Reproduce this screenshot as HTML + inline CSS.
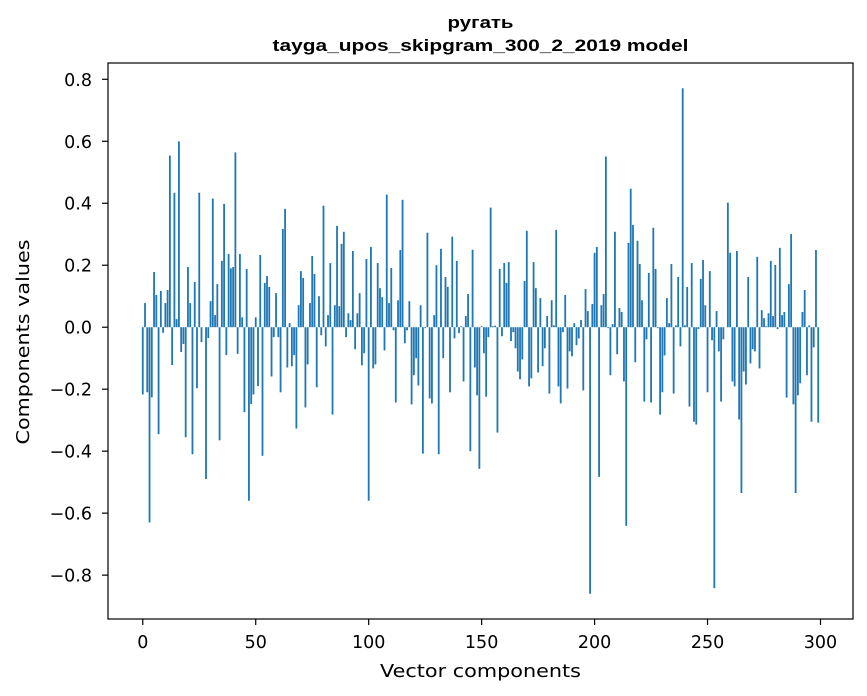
<!DOCTYPE html>
<html><head><meta charset="utf-8">
<style>
html,body{margin:0;padding:0;background:#fff;}
svg{display:block;}
</style></head>
<body>
<svg id="chart" width="867" height="696" viewBox="0 0 867 696" xmlns="http://www.w3.org/2000/svg">
  <rect x="0" y="0" width="867" height="696" fill="#fff"/>
  <text x="480.5" y="28" text-anchor="middle" font-family="Liberation Sans, Arial, sans-serif" font-weight="bold" font-size="17" textLength="66" lengthAdjust="spacingAndGlyphs" fill="#000">ругать</text>
  <text x="480.5" y="51" text-anchor="middle" font-family="Liberation Sans, Arial, sans-serif" font-weight="bold" font-size="17" textLength="416" lengthAdjust="spacingAndGlyphs" fill="#000">tayga_upos_skipgram_300_2_2019 model</text>
  <g id="bars"></g>
  <g id="xticks"></g>
  <g id="yticks"></g>
  <rect x="108" y="63" width="745" height="556" fill="none" stroke="#000" stroke-width="1.2"/>
  <text x="480.5" y="677" text-anchor="middle" font-family="DejaVu Sans, sans-serif" font-size="17.5" textLength="201" lengthAdjust="spacingAndGlyphs" fill="#000">Vector components</text>
  <text transform="translate(29,342) rotate(-90)" text-anchor="middle" font-family="DejaVu Sans, sans-serif" font-size="17.5" textLength="205" lengthAdjust="spacingAndGlyphs" fill="#000">Components values</text>
</svg>
<script>
const componentValues = [
-0.217,0.078,-0.21,-0.63,-0.226,0.178,0.104,-0.345,0.117,-0.018,
0.078,0.12,0.554,-0.122,0.434,0.026,0.6,-0.08,-0.054,-0.355,
0.194,0.078,-0.41,0.146,-0.197,0.434,-0.048,0,-0.49,-0.035,
0.084,0.415,0.039,0.139,-0.365,0.214,0.398,-0.09,0.236,0.19,
0.194,0.564,-0.086,0.236,0.032,-0.274,0.188,-0.56,-0.248,-0.217,
0.032,-0.19,0.233,-0.415,0.143,0.165,0.13,-0.159,-0.032,0.11,
-0.032,-0.21,0.317,0.382,-0.13,0.013,-0.126,-0.09,-0.327,0.071,
0.181,0.159,-0.259,-0.12,0.078,0.23,0.172,-0.194,0.1,-0.026,
0.392,-0.062,0.039,0.207,-0.282,0.071,0.327,0.068,0.269,0.308,
-0.032,0.045,0.023,0.246,-0.071,0.045,0.11,-0.123,-0.084,0.22,
-0.56,0.259,-0.133,-0.12,0.207,0.126,0.097,-0.075,0.428,0.078,
0.191,-0.01,-0.243,0.087,0.249,0.411,-0.052,-0.01,0.084,-0.249,
-0.155,-0.1,-0.188,0.071,-0.408,-0.003,0.305,-0.23,-0.246,0.039,
0.2,-0.41,0.253,-0.1,0.162,0.13,-0.21,0.292,-0.036,0.214,
-0.019,0.003,-0.175,0.036,0.107,-0.4,0.25,-0.13,-0.22,-0.457,
0.003,-0.084,-0.224,-0.032,0.386,0.003,0.005,-0.34,0.188,-0.029,
0.207,0.143,0.21,-0.045,-0.016,-0.068,-0.143,-0.168,-0.104,0.149,
0.311,-0.191,-0.165,0.21,0.126,-0.146,0.094,-0.126,-0.068,0.036,
-0.214,0.087,0.006,0.314,-0.191,-0.246,-0.016,0.104,-0.198,-0.078,
-0.094,0.013,-0.058,-0.036,0.023,-0.204,0.123,0.052,-0.86,0.075,
0.24,0.259,-0.483,0.071,0.107,0.551,-0.003,-0.155,0.01,0.308,
-0.087,0.062,0.049,-0.175,-0.641,0.272,0.447,0.33,-0.113,0.279,
0.204,0.087,-0.24,-0.039,0.175,-0.243,0.321,0.188,-0.003,-0.282,
-0.21,-0.091,0.094,0.013,0.204,-0.214,0.006,0.162,-0.062,0.771,
0.006,0.13,-0.256,0.207,-0.305,-0.314,-0.006,0.156,0.217,0.071,
-0.21,0.181,-0.042,-0.842,0.052,-0.078,-0.24,-0.039,0,0.402,
0.24,-0.175,-0.191,0.246,-0.298,-0.535,-0.143,-0.185,0.162,-0.117,
-0.071,-0.078,0.227,-0.133,0.055,0.029,0.003,0.045,0.214,0.036,
0.201,-0.006,0.256,0.039,0.049,-0.227,0.139,0.301,-0.249,-0.535,
-0.22,-0.181,0.049,0.12,-0.155,0.006,-0.305,-0.065,0.249,-0.308
];
const xTickValues = [0, 50, 100, 150, 200, 250, 300];
const yTickValues = [-0.8, -0.6, -0.4, -0.2, 0.0, 0.2, 0.4, 0.6, 0.8];
const yTickLabels = ["\u22120.8","\u22120.6","\u22120.4","\u22120.2","0.0","0.2","0.4","0.6","0.8"];

const NS = "http://www.w3.org/2000/svg";
const L = 108, R = 853, T = 63, B = 619;
const n = componentValues.length;
const xMinD = -0.4, xMaxD = (n - 1) + 0.4;
const xPad = (xMaxD - xMinD) * 0.05;
const x0 = xMinD - xPad, x1 = xMaxD + xPad;
const dMin = Math.min(0, ...componentValues), dMax = Math.max(0, ...componentValues);
const yPad = (dMax - dMin) * 0.05;
const y0 = dMin - yPad, y1 = dMax + yPad;
function xScale(v){ return L + (v - x0) / (x1 - x0) * (R - L); }
function yScale(v){ return B - (v - y0) / (y1 - y0) * (B - T); }

const barsG = document.getElementById('bars');
componentValues.forEach((v, i) => {
  const r = document.createElementNS(NS, 'rect');
  const xa = xScale(i - 0.4), xb = xScale(i + 0.4);
  const ya = yScale(Math.max(v, 0)), yb = yScale(Math.min(v, 0));
  r.setAttribute('x', xa);
  r.setAttribute('width', xb - xa);
  r.setAttribute('y', ya);
  r.setAttribute('height', Math.max(yb - ya, 0));
  r.setAttribute('fill', '#1f77b4');
  
  
  barsG.appendChild(r);
});

const xg = document.getElementById('xticks');
xTickValues.forEach(t => {
  const x = xScale(t);
  const ln = document.createElementNS(NS, 'line');
  ln.setAttribute('x1', x); ln.setAttribute('x2', x);
  ln.setAttribute('y1', B); ln.setAttribute('y2', B + 6);
  ln.setAttribute('stroke', '#000'); ln.setAttribute('stroke-width', '1.2');
  
  
  xg.appendChild(ln);
  const tx = document.createElementNS(NS, 'text');
  tx.setAttribute('x', x); tx.setAttribute('y', B + 29);
  tx.setAttribute('text-anchor', 'middle');
  tx.setAttribute('font-family', 'DejaVu Sans, sans-serif');
  tx.setAttribute('font-size', '17.5');
  tx.textContent = String(t);
  
  
  xg.appendChild(tx);
});

const yg = document.getElementById('yticks');
yTickValues.forEach((t, k) => {
  const y = yScale(t);
  if (y < T - 1 || y > B + 1) return;
  const ln = document.createElementNS(NS, 'line');
  ln.setAttribute('x1', L - 6); ln.setAttribute('x2', L);
  ln.setAttribute('y1', y); ln.setAttribute('y2', y);
  ln.setAttribute('stroke', '#000'); ln.setAttribute('stroke-width', '1.2');
  
  
  yg.appendChild(ln);
  const tx = document.createElementNS(NS, 'text');
  tx.setAttribute('x', L - 16); tx.setAttribute('y', y + 6.5);
  tx.setAttribute('text-anchor', 'end');
  tx.setAttribute('font-family', 'DejaVu Sans, sans-serif');
  tx.setAttribute('font-size', '17.5');
  tx.textContent = yTickLabels[k];
  
  
  yg.appendChild(tx);
});
</script>
</body></html>
